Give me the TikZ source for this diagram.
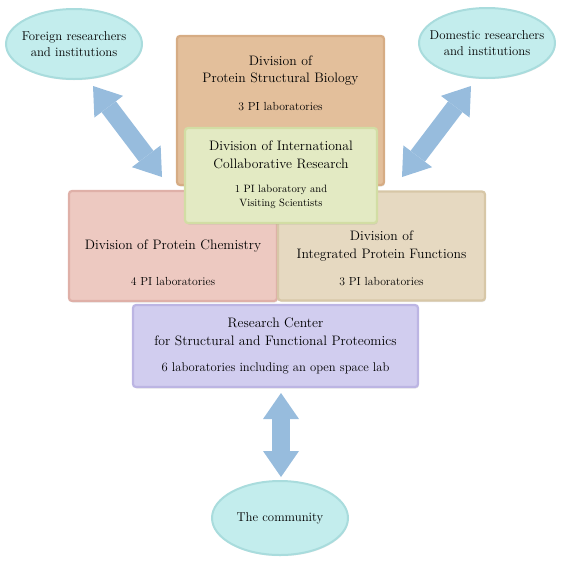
\documentclass[tikz,border=0pt]{standalone}
\usepackage{tikz}
\usetikzlibrary{arrows.meta,positioning,shapes.geometric,shadows}
\definecolor{ovalfill}{HTML}{C3EDED}
\definecolor{ovalrim}{HTML}{A9DCDD}
\definecolor{psbfill}{HTML}{E3BF9B}
\definecolor{psbrim}{HTML}{D6AC84}
\definecolor{icrfill}{HTML}{E3EAC3}
\definecolor{icrrim}{HTML}{D2DDA4}
\definecolor{pcfill}{HTML}{EDC9C1}
\definecolor{pcrim}{HTML}{DFB0A8}
\definecolor{ipffill}{HTML}{E6D9C1}
\definecolor{ipfrim}{HTML}{D7C7A7}
\definecolor{rcfill}{HTML}{D1CDEF}
\definecolor{rcrim}{HTML}{BCB5E3}
\definecolor{linkblue}{HTML}{97BCDD}
\tikzset{
  div-box/.style={rounded corners=3pt, line width=2.2pt, inner sep=0pt,
    drop shadow={shadow xshift=0.8pt, shadow yshift=-1.5pt, opacity=0.18}},
  partner-oval/.style={ellipse, draw=ovalrim, fill=ovalfill, line width=2pt, inner sep=0pt,
    minimum width=136pt, minimum height=70pt,
    drop shadow={shadow xshift=0.6pt, shadow yshift=-1.2pt, opacity=0.15}},
  oval-text/.style={align=center, font=\fontsize{12.8}{16.5}\selectfont},
  div-title/.style={align=center, font=\fontsize{13.7}{17.5}\selectfont},
  div-note/.style={align=center, font=\fontsize{11.7}{14}\selectfont},
  link-arrow/.style={draw=linkblue, line width=18pt,
    {Triangle[width=36pt, length=26pt, line width=0pt]}-{Triangle[width=36pt, length=26pt, line width=0pt]}}
}
\begin{document}
\begin{tikzpicture}[x=1pt, y=-1pt]
  \useasboundingbox (0,0) rectangle (564,563);

  % Partners
  \node[partner-oval] (foreign) at (74,44) {};
  \node[oval-text] at (foreign) {Foreign researchers\\and institutions};
  \node[partner-oval] (domestic) at (487,43) {};
  \node[oval-text] at (domestic) {Domestic researchers\\and institutions};
  \node[partner-oval, minimum height=74pt] (community) at (280,518) {};
  \node[oval-text] at (community) {The community};

  % Divisions
  \node[div-box, draw=psbrim, fill=psbfill, minimum width=207pt, minimum height=149pt] (psb) at (280.5,110.5) {};
  \node[div-title] at (280.5,70.5) {Division of\\Protein Structural Biology};
  \node[div-note] at (280.5,107) {3 PI laboratories};

  \node[div-box, draw=pcrim, fill=pcfill, minimum width=208pt, minimum height=110pt] (pc) at (173,246) {};
  \node[div-title] at (173,246) {Division of Protein Chemistry};
  \node[div-note] at (173,281) {4 PI laboratories};

  \node[div-box, draw=ipfrim, fill=ipffill, minimum width=207pt, minimum height=109pt] (ipf) at (381.5,246) {};
  \node[div-title] at (381.5,246) {Division of\\Integrated Protein Functions};
  \node[div-note] at (381.5,282) {3 PI laboratories};

  \node[div-box, draw=icrrim, fill=icrfill, minimum width=192pt, minimum height=95pt] (icr) at (281,175.5) {};
  \node[div-title] at (281,155) {Division of International\\Collaborative Research};
  \node[div-note, font=\fontsize{10.6}{14}\selectfont] at (281,197) {1 PI laboratory and\\Visiting Scientists};

  \node[div-box, draw=rcrim, fill=rcfill, minimum width=285pt, minimum height=82pt] (rc) at (275.5,346) {};
  \node[div-title] at (275.5,332) {Research Center\\for Structural and Functional Proteomics};
  \node[div-note, font=\fontsize{12.6}{14}\selectfont] at (275.5,368) {6 laboratories including an open space lab};

  % Exchange arrows
  \coordinate (foreign-end) at (93,86);
  \coordinate (foreign-base) at (162,177);
  \coordinate (domestic-end) at (471,86);
  \coordinate (domestic-base) at (402,177);
  \coordinate (community-base) at (281,393);
  \coordinate (community-end) at (281,477);
  \draw[link-arrow] (foreign-end) -- (foreign-base);
  \draw[link-arrow] (domestic-end) -- (domestic-base);
  \draw[link-arrow] (community-base) -- (community-end);
\end{tikzpicture}
\end{document}
